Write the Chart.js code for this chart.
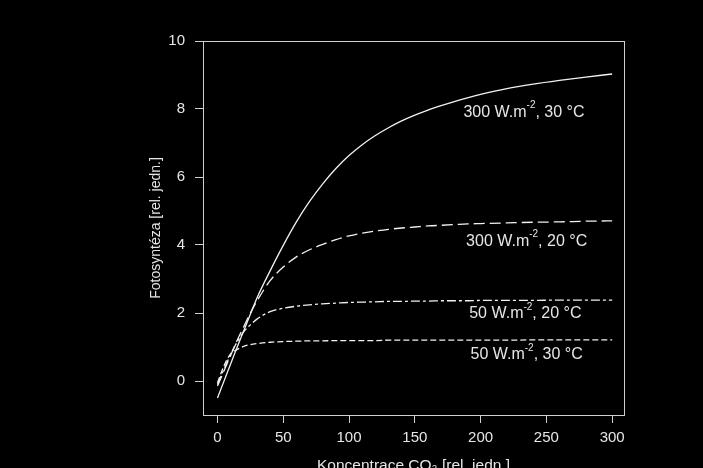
<!DOCTYPE html>
<html>
<head>
	<title>Fotosyntéza</title>
	<script src="https://cdn.jsdelivr.net/npm/chart.js@4"></script>
	<meta charset="utf-8"/>
	<style>
		html, body { margin: 0; padding: 0; background: #000; overflow: hidden; width: 703px; height: 468px; }
		canvas { display: block; }
	</style>
</head>
<body>
    <canvas id="myChart" width="703" height="480"></canvas>

    <script>
        // CO2 concentration [rel. units]
        var co2 = [0, 5, 10, 15, 20, 25, 30, 40, 50, 60, 70, 80, 90, 100, 110, 120, 130, 140, 150,
                   160, 170, 180, 190, 200, 220, 240, 260, 280, 300];

        // photosynthesis
        var w300t30 = [-0.5, 0.0, 0.5, 1.0, 1.48, 1.96, 2.44, 3.24, 3.99, 4.68, 5.28, 5.8, 6.25, 6.63, 6.95, 7.22,
                       7.45, 7.65, 7.82, 7.97, 8.1, 8.22, 8.33, 8.43, 8.6, 8.73, 8.84, 8.94, 9.03];
        var w300t20 = [-0.15, 0.3, 0.75, 1.2, 1.6, 2.0, 2.35, 2.95, 3.35, 3.65, 3.86, 4.02, 4.16, 4.27, 4.35, 4.41,
                       4.46, 4.5, 4.53, 4.56, 4.58, 4.6, 4.62, 4.63, 4.65, 4.67, 4.68, 4.7, 4.71];
        var w50t20 = [-0.1, 0.35, 0.78, 1.15, 1.45, 1.65, 1.82, 2.04, 2.14, 2.2, 2.24, 2.27, 2.29, 2.31, 2.32, 2.33,
                      2.34, 2.34, 2.35, 2.35, 2.36, 2.36, 2.36, 2.37, 2.37, 2.37, 2.38, 2.38, 2.38];
        var w50t30 = [-0.05, 0.45, 0.8, 0.93, 1.02, 1.07, 1.1, 1.14, 1.16, 1.17, 1.18, 1.18, 1.19, 1.19, 1.19, 1.19,
                      1.2, 1.2, 1.2, 1.2, 1.2, 1.2, 1.2, 1.2, 1.2, 1.21, 1.21, 1.21, 1.21];

        var seriesNames = [
            ["300 W.m", "-2", ", 30 °C"],
            ["300 W.m", "-2", ", 20 °C"],
            ["50 W.m", "-2", ", 20 °C"],
            ["50 W.m", "-2", ", 30 °C"]
        ];

        var xTicks = [0, 50, 100, 150, 200, 250, 300];
        var yTicks = [0, 2, 4, 6, 8, 10];

        var FONT = '"Liberation Sans", Arial, Helvetica, sans-serif';
        var INK = '#e6e6e6';

        function pts(ys) {
            var out = [];
            for (var i = 0; i < co2.length; i++) {
                out.push({x: co2[i], y: ys[i]});
            }
            return out;
        }

        function line(label, ys, dash) {
            return {
                label: label,
                data: pts(ys),
                borderColor: '#f2f2f2',
                borderWidth: 1.3,
                borderDash: dash,
                pointRadius: 0,
                cubicInterpolationMode: 'monotone',
                fill: false
            };
        }

        // box around the plot area
        var framePlugin = {
            id: 'frame',
            afterDraw: function (chart) {
                var a = chart.chartArea, ctx = chart.ctx;
                ctx.save();
                ctx.strokeStyle = '#cfcfcf';
                ctx.lineWidth = 1;
                ctx.strokeRect(Math.round(a.left) + 0.5, Math.round(a.top) + 0.5,
                               Math.round(a.right - a.left), Math.round(a.bottom - a.top));
                ctx.restore();
            }
        };

        // curve captions with superscript, anchored in data units
        var captionAt = [[233, 7.9], [235, 4.1], [234, 1.97], [235, 0.77]];
        var captionPlugin = {
            id: 'captions',
            afterDatasetsDraw: function (chart) {
                var ctx = chart.ctx, xs = chart.scales.x, ys = chart.scales.y;
                ctx.save();
                ctx.fillStyle = INK;
                ctx.textBaseline = 'middle';
                ctx.textAlign = 'left';
                for (var i = 0; i < seriesNames.length; i++) {
                    var p = seriesNames[i];
                    ctx.font = '16px ' + FONT;
                    var w0 = ctx.measureText(p[0]).width, w2 = ctx.measureText(p[2]).width;
                    ctx.font = '10px ' + FONT;
                    var w1 = ctx.measureText(p[1]).width;
                    var cx = xs.getPixelForValue(captionAt[i][0]);
                    var cy = ys.getPixelForValue(captionAt[i][1]);
                    var x = cx - (w0 + w1 + w2) / 2;
                    ctx.font = '16px ' + FONT;
                    ctx.fillText(p[0], x, cy);
                    ctx.font = '10px ' + FONT;
                    ctx.fillText(p[1], x + w0, cy - 7);
                    ctx.font = '16px ' + FONT;
                    ctx.fillText(p[2], x + w0 + w1, cy);
                }
                ctx.restore();
            }
        };

        var chartdata = {
            datasets: [
                line(seriesNames[0].join(''), w300t30, []),
                line(seriesNames[1].join(''), w300t20, [11, 5]),
                line(seriesNames[2].join(''), w50t20, [9, 3, 3, 3]),
                line(seriesNames[3].join(''), w50t30, [6, 3])
            ]
        };

        var myChart = new Chart(document.getElementById('myChart'), {
            type: 'line',
            data: chartdata,
            plugins: [framePlugin, captionPlugin],
            options: {
                responsive: false,
                animation: false,
                devicePixelRatio: 1,
                layout: { padding: { top: 41, right: 79, bottom: 0, left: 0 } },
                plugins: { legend: { display: false }, tooltip: { enabled: false } },
                scales: {
                    x: {
                        type: 'linear',
                        min: -11,
                        max: 309,
                        afterBuildTicks: function (s) { s.ticks = xTicks.map(function (v) { return {value: v}; }); },
                        afterFit: function (s) { s.height = 65; },
                        grid: { drawOnChartArea: false, color: '#cfcfcf', tickLength: 8, tickWidth: 1 },
                        border: { display: false },
                        ticks: { color: INK, font: { family: FONT, size: 15 }, padding: 6, maxRotation: 0 },
                        title: {
                            display: true,
                            text: 'Koncentrace CO₂ [rel. jedn.]',
                            color: INK,
                            font: { family: FONT, size: 15.5 },
                            padding: { top: 0, bottom: 5 }
                        }
                    },
                    y: {
                        type: 'linear',
                        min: -1,
                        max: 10,
                        afterBuildTicks: function (s) { s.ticks = yTicks.map(function (v) { return {value: v}; }); },
                        afterFit: function (s) { s.width = 203; },
                        grid: { drawOnChartArea: false, color: '#cfcfcf', tickLength: 8, tickWidth: 1 },
                        border: { display: false },
                        ticks: { color: INK, font: { family: FONT, size: 15 }, padding: 10 },
                        title: {
                            display: true,
                            text: 'Fotosyntéza [rel. jedn.]',
                            color: INK,
                            font: { family: FONT, size: 14 },
                            padding: { top: 148, bottom: 0 }
                        }
                    }
                }
            }
        });
    </script>

</body>
</html>
